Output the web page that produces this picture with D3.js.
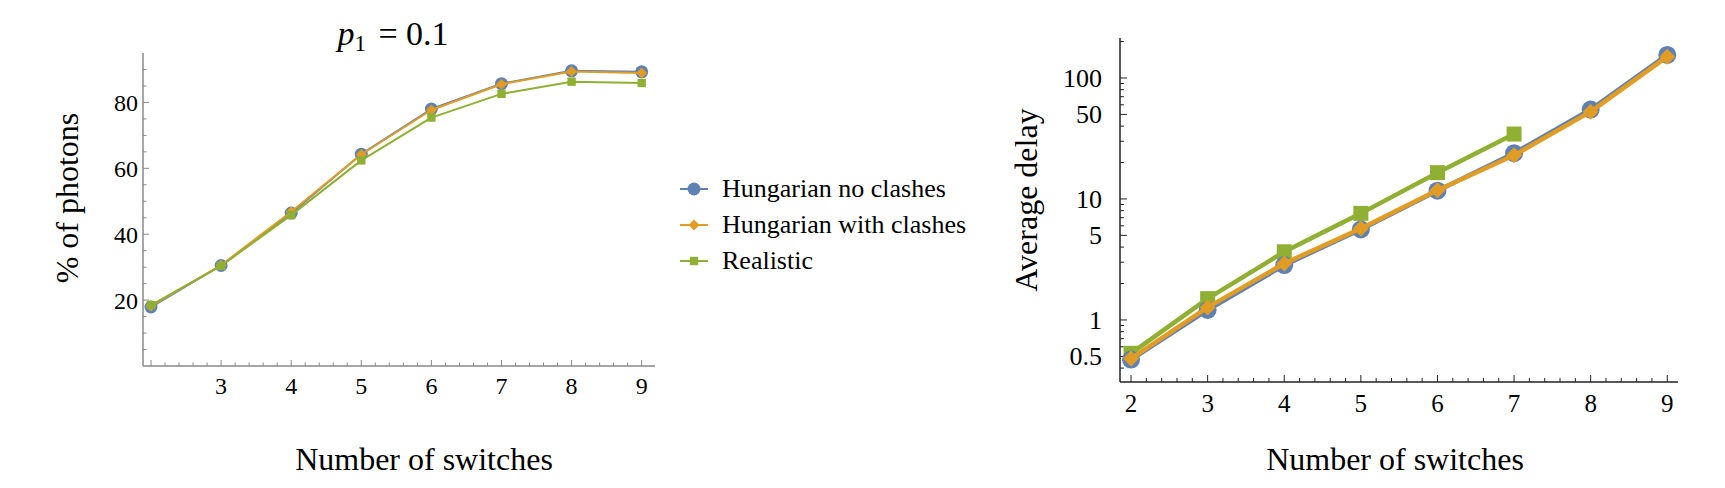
<!DOCTYPE html>
<html>
<head>
<meta charset="utf-8">
<script src="https://cdn.jsdelivr.net/npm/d3@7"></script>
<style>
  body { margin: 0; background: #fff; }
  text { font-family: "Liberation Serif", "Times New Roman", serif; fill: #000; }
</style>
</head>
<body>
<script>
// data
var switches = [2, 3, 4, 5, 6, 7, 8, 9];
var photonsNoClash = [17.9, 30.5, 46.4, 64.3, 78.0, 85.7, 89.6, 89.3];
var photonsClash = [18.2, 30.6, 46.8, 64.2, 77.7, 85.5, 89.4, 88.9];
var photonsRealistic = [18.5, 30.4, 45.8, 62.4, 75.4, 82.6, 86.3, 85.9];

var delayNoClash = [0.47, 1.21, 2.84, 5.6, 11.7, 23.9, 54.8, 155];
var delayClash = [0.48, 1.27, 2.93, 5.7, 11.8, 23.0, 52.7, 150];
var delayRealistic = [0.53, 1.5, 3.66, 7.6, 16.5, 34.4];

var seriesNames = ["Hungarian no clashes", "Hungarian with clashes", "Realistic"];
var colors = ["#5e81b5", "#e19c24", "#8fb032"];
var shapes = ["circle", "diamond", "square"];

var leftYTicks = [20, 40, 60, 80];
var rightYTicks = [0.5, 1, 5, 10, 50, 100];

var W = 1725, H = 488;
var svg = d3.select("body").append("svg")
    .attr("width", W)
    .attr("height", H);
svg.append("rect").attr("width", W).attr("height", H).attr("fill", "#fff");

function zip(xs, ys) {
  return ys.map(function(v, i) { return {x: xs[i], y: v}; });
}

// draws a marker of a given shape at px,py
function marker(g, shape, px, py, sz, color) {
  if (shape == "circle") {
    g.append("circle").attr("cx", px).attr("cy", py).attr("r", sz)
      .attr("fill", color);
  } else if (shape == "diamond") {
    g.append("path")
      .attr("d", d3.symbol().type(d3.symbolSquare).size(sz * sz * 2)())
      .attr("transform", "translate(" + px + "," + py + ") rotate(45)")
      .attr("fill", color);
  } else {
    g.append("path")
      .attr("d", d3.symbol().type(d3.symbolSquare).size(sz * sz * 4)())
      .attr("transform", "translate(" + px + "," + py + ")")
      .attr("fill", color);
  }
}

function drawSeries(g, x, y, data, color, shape, lw, sz) {
  var line = d3.line()
      .x(function(d) { return x(d.x); })
      .y(function(d) { return y(d.y); });
  g.append("path")
      .datum(data)
      .attr("fill", "none")
      .attr("stroke", color)
      .attr("stroke-width", lw)
      .attr("stroke-linejoin", "round")
      .attr("d", line);
  data.forEach(function(d) {
    marker(g, shape, x(d.x), y(d.y), sz, color);
  });
}

// minor x ticks every 0.2
function xTickValues(dom) {
  var v = [];
  for (var i = Math.ceil(dom[0] * 5); i <= Math.floor(dom[1] * 5); i++) v.push(i / 5);
  return v;
}

// ---------------- left chart ----------------
var xL = d3.scaleLinear().domain([1.886, 9.19]).range([143, 655]);
var yL = d3.scaleLinear().domain([0, 95]).range([366, 53]);
var axisCol = "#888";
var gL = svg.append("g");

gL.append("line").attr("x1", xL.range()[0]).attr("x2", xL.range()[1])
  .attr("y1", yL(0)).attr("y2", yL(0)).attr("stroke", axisCol).attr("stroke-width", 1.5);
gL.append("line").attr("x1", xL.range()[0]).attr("x2", xL.range()[0])
  .attr("y1", yL.range()[0]).attr("y2", yL.range()[1]).attr("stroke", axisCol).attr("stroke-width", 1.5);

xTickValues(xL.domain()).forEach(function(v) {
  var major = Math.abs(v - Math.round(v)) < 1e-6;
  gL.append("line").attr("x1", xL(v)).attr("x2", xL(v))
    .attr("y1", yL(0)).attr("y2", yL(0) - (major ? 6 : 3.5))
    .attr("stroke", axisCol).attr("stroke-width", 1);
});
switches.slice(1).forEach(function(v) {
  gL.append("text").attr("x", xL(v)).attr("y", yL(0) + 28)
    .attr("text-anchor", "middle").style("font-size", "24px").text(v);
});
d3.range(5, 95, 5).forEach(function(v) {
  var major = v % 20 == 0;
  gL.append("line").attr("x1", xL.range()[0]).attr("x2", xL.range()[0] + (major ? 6 : 3.5))
    .attr("y1", yL(v)).attr("y2", yL(v)).attr("stroke", axisCol).attr("stroke-width", 1);
});
leftYTicks.forEach(function(v) {
  gL.append("text").attr("x", 138).attr("y", yL(v)).attr("dy", "0.35em")
    .attr("text-anchor", "end").style("font-size", "24px").text(v);
});

drawSeries(gL, xL, yL, zip(switches, photonsNoClash), colors[0], "circle", 2, 6.5);
drawSeries(gL, xL, yL, zip(switches, photonsClash), colors[1], "diamond", 2, 5.5);
drawSeries(gL, xL, yL, zip(switches, photonsRealistic), colors[2], "square", 2, 4.2);

// title
var title = gL.append("text").attr("x", 393).attr("y", 45)
  .attr("text-anchor", "middle").style("font-size", "34px");
title.append("tspan").style("font-style", "italic").text("p");
title.append("tspan").attr("dy", 6).style("font-size", "23px").text("1");
title.append("tspan").attr("dy", -6).attr("dx", 4).text(" =  0.1");

gL.append("text").attr("x", 424).attr("y", 470).attr("text-anchor", "middle")
  .style("font-size", "32px").text("Number of switches");
gL.append("text").attr("transform", "translate(78,198) rotate(-90)")
  .attr("text-anchor", "middle").style("font-size", "32px").text("% of photons");

// legend
var leg = svg.append("g");
var legY = [189, 225, 261];
seriesNames.forEach(function(name, i) {
  leg.append("line").attr("x1", 680).attr("x2", 708)
    .attr("y1", legY[i]).attr("y2", legY[i])
    .attr("stroke", colors[i]).attr("stroke-width", 2);
  marker(leg, shapes[i], 694, legY[i], [6.5, 5.5, 4.2][i], colors[i]);
  leg.append("text").attr("x", 722).attr("y", legY[i] + 8)
    .style("font-size", "26px").text(name);
});

// ---------------- right chart ----------------
var xR = d3.scaleLinear().domain([1.856, 9.14]).range([1120, 1678]);
var yR = d3.scaleLog().domain([0.307, 214]).range([382, 38]);
var gR = svg.append("g");
var axisR = "#222";

gR.append("line").attr("x1", xR.range()[0]).attr("x2", xR.range()[1])
  .attr("y1", yR.range()[0]).attr("y2", yR.range()[0]).attr("stroke", axisR).attr("stroke-width", 1.5);
gR.append("line").attr("x1", xR.range()[0]).attr("x2", xR.range()[0])
  .attr("y1", yR.range()[0]).attr("y2", yR.range()[1]).attr("stroke", axisR).attr("stroke-width", 1.5);

xTickValues(xR.domain()).forEach(function(v) {
  var major = Math.abs(v - Math.round(v)) < 1e-6;
  gR.append("line").attr("x1", xR(v)).attr("x2", xR(v))
    .attr("y1", yR.range()[0]).attr("y2", yR.range()[0] - (major ? 7 : 4))
    .attr("stroke", axisR).attr("stroke-width", 1);
});
switches.forEach(function(v) {
  gR.append("text").attr("x", xR(v)).attr("y", yR.range()[0] + 30)
    .attr("text-anchor", "middle").style("font-size", "25px").text(v);
});
yR.ticks(40).filter(function(v) { return v >= yR.domain()[0] && v <= yR.domain()[1]; })
  .forEach(function(v) {
    var major = rightYTicks.some(function(t) { return Math.abs(t - v) < 1e-9; });
    gR.append("line").attr("x1", xR.range()[0]).attr("x2", xR.range()[0] + (major ? 7 : 4))
      .attr("y1", yR(v)).attr("y2", yR(v)).attr("stroke", axisR).attr("stroke-width", 1);
  });
rightYTicks.forEach(function(v) {
  gR.append("text").attr("x", 1102).attr("y", yR(v)).attr("dy", "0.35em")
    .attr("text-anchor", "end").style("font-size", "26px").text(v);
});

drawSeries(gR, xR, yR, zip(switches, delayRealistic), colors[2], "square", 4.5, 7.5);
drawSeries(gR, xR, yR, zip(switches, delayNoClash), colors[0], "circle", 4.5, 9);
drawSeries(gR, xR, yR, zip(switches, delayClash), colors[1], "diamond", 4.5, 8);

gR.append("text").attr("x", 1395).attr("y", 470).attr("text-anchor", "middle")
  .style("font-size", "32px").text("Number of switches");
gR.append("text").attr("transform", "translate(1037,200) rotate(-90)")
  .attr("text-anchor", "middle").style("font-size", "32px").text("Average delay");
</script>
</body>
</html>
